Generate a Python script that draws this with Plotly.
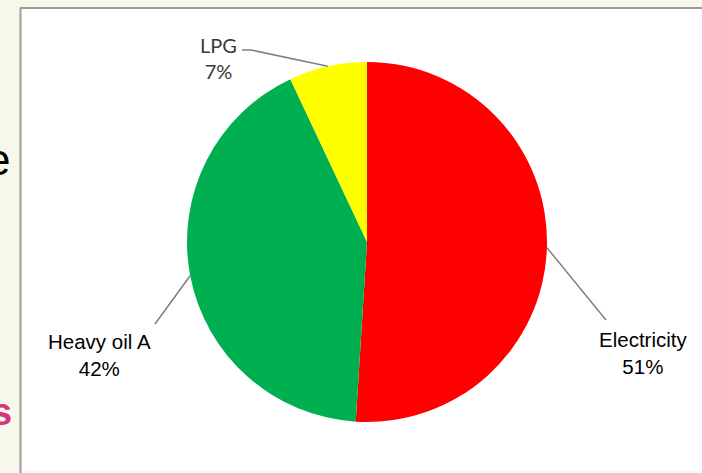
import math
import plotly.graph_objects as go

# Energy mix by source (share of consumption, %)
sources = ["Electricity", "Heavy oil A", "LPG"]
shares = [51, 42, 7]
colors = ["#FF0000", "#00B050", "#FFFF00"]

W, H = 702, 473

# pie geometry in pixels
cx, cy, r = 367, 242, 180


def px(x):
    return x / W


def py(y):
    return 1 - y / H


fig = go.Figure()
fig.add_trace(go.Pie(
    labels=sources,
    values=shares,
    sort=False,
    direction="clockwise",
    rotation=0,
    marker=dict(colors=colors, line=dict(width=0)),
    textinfo="none",
    hoverinfo="skip",
    showlegend=False,
    domain=dict(x=[px(cx - r), px(cx + r)], y=[py(cy + r), py(cy - r)]),
))

# edge points at each slice's mid-angle (clockwise from 12 o'clock)
total = sum(shares)
anchors = []
acc = 0
for v in shares:
    mid = (acc + v / 2) / total * 2 * math.pi
    anchors.append((cx + r * math.sin(mid), cy - r * math.cos(mid)))
    acc += v

shapes = [
    # white panel with grey frame on the left and top
    dict(type="rect", xref="paper", yref="paper", x0=px(21), x1=1.01, y0=py(471), y1=py(8),
         fillcolor="white", line=dict(width=0), layer="below"),
    dict(type="line", xref="paper", yref="paper", x0=px(20.5), x1=px(20.5), y0=-0.01, y1=py(7.5),
         line=dict(color="#9C9C9C", width=2)),
    dict(type="line", xref="paper", yref="paper", x0=px(20), x1=1.01, y0=py(8), y1=py(8),
         line=dict(color="#9C9C9C", width=2)),
]

# leader lines from label to slice edge
label_ends = [(606, 320), (155, 324), (251, 50)]
for (ax, ay), (lx, ly) in zip(anchors, label_ends):
    shapes.append(dict(type="line", xref="paper", yref="paper",
                       x0=px(lx), y0=py(ly), x1=px(ax), y1=py(ay),
                       line=dict(color="#808080", width=1.5)))
shapes.append(dict(type="line", xref="paper", yref="paper",
                   x0=px(242), y0=py(50), x1=px(251), y1=py(50),
                   line=dict(color="#808080", width=1.5)))

label_pos = [(643, 353), (99, 355), (218, 58)]
annotations = []
for i, (name, val) in enumerate(zip(sources, shares)):
    lx, ly = label_pos[i]
    if name == "LPG":
        font = dict(family="Lato, Open Sans, sans-serif", size=20, color="#3A3A3A")
    else:
        font = dict(family="Liberation Sans, Arial, sans-serif", size=20.5, color="black")
    annotations.append(dict(
        x=px(lx), y=py(ly), xref="paper", yref="paper",
        text=f"{name}<br>{val}%", showarrow=False,
        xanchor="center", yanchor="middle", font=font,
    ))

# text fragments along the left margin
annotations.append(dict(x=px(12), y=py(159), xref="paper", yref="paper", text="e",
                        showarrow=False, xanchor="right", yanchor="middle",
                        font=dict(family="Liberation Sans, Arial", size=44, color="black")))
annotations.append(dict(x=px(14), y=py(412), xref="paper", yref="paper", text="<b>s</b>",
                        showarrow=False, xanchor="right", yanchor="middle",
                        font=dict(family="Liberation Sans, Arial", size=38, color="#D4357F")))

fig.update_layout(
    width=W, height=H,
    margin=dict(l=0, r=0, t=0, b=0),
    paper_bgcolor="#F7F7EA",
    plot_bgcolor="#F7F7EA",
    shapes=shapes,
    annotations=annotations,
)

fig.write_html("out.html")
